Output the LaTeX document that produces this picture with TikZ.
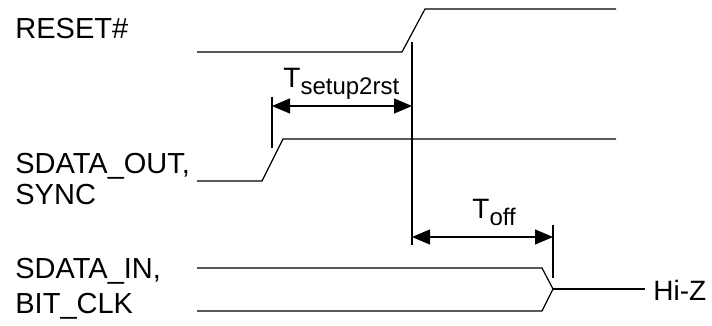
\documentclass[tikz,border=0pt]{standalone}
\usepackage{fontspec}
\setmainfont{Liberation Sans}
\usetikzlibrary{arrows.meta}

\begin{document}
\begin{tikzpicture}[x=0.5pt,y=-0.5pt,
        sig/.style={line width=0.6pt},
        dim/.style={line width=0.6pt,{Triangle[length=9pt,width=7.5pt]}-{Triangle[length=9pt,width=7.5pt]}},
        lbl/.style={anchor=base west,inner sep=0pt,font=\fontsize{14.5}{16}\selectfont}]
            \useasboundingbox (0,0) rectangle (712,326);

            % RESET# 信号
            \coordinate (R0) at (197,52);
            \coordinate (R1) at (402,52);
            \coordinate (R2) at (425,9);
            \coordinate (R3) at (616,9);
            \draw[sig] (R0) -- (R1) -- (R2) -- (R3);
            \node[lbl] (rst) at (15,39) {RESET\#};

            % SDATA_OUT, SYNC 信号
            \coordinate (D0) at (197,181);
            \coordinate (D1) at (262,181);
            \coordinate (D2) at (283,139);
            \coordinate (D3) at (616,139);
            \draw[sig] (D0) -- (D1) -- (D2) -- (D3);
            \node[lbl] (dout) at (15,173) {SDATA\_OUT,};
            \node[lbl] (sync) at (15,204) {SYNC};

            % SDATA_IN, BIT_CLK 信号 (进入高阻)
            \coordinate (I0) at (197,268);
            \coordinate (I1) at (542,268);
            \coordinate (K0) at (197,311);
            \coordinate (K1) at (542,311);
            \coordinate (Z0) at (553,289);
            \coordinate (Z1) at (645,289);
            \draw[sig] (I0) -- (I1) -- (Z0) -- (K1) -- (K0);
            \draw[sig] (Z0) -- (Z1);
            \node[lbl] (din) at (15,278) {SDATA\_IN,};
            \node[lbl] (bclk) at (15,313) {BIT\_CLK};
            \node[lbl,font=\fontsize{14}{16}\selectfont] (hiz) at (653,300) {Hi-Z};

            % 参考线
            \coordinate (V0) at (412,42);
            \coordinate (V1) at (412,245);
            \coordinate (L0) at (272,97);
            \coordinate (L1) at (272,148);
            \coordinate (W0) at (553,225);
            \coordinate (W1) at (553,278);
            \draw[sig] (V0) -- (V1);
            \draw[sig] (L0) -- (L1);
            \draw[sig] (W0) -- (W1);

            % 时间间隔
            \coordinate (S1) at (272,106);
            \coordinate (S2) at (412,106);
            \draw[dim] (S1) -- (S2);
            \node[lbl,font=\fontsize{14}{16}\selectfont] (tsu) at (283,88) {T\raisebox{-3.5pt}{\fontsize{12}{14}\selectfont setup2rst}};

            \coordinate (O1) at (412,237);
            \coordinate (O2) at (553,237);
            \draw[dim] (O1) -- (O2);
            \node[lbl,font=\fontsize{14}{16}\selectfont] (toff) at (472,218) {T\raisebox{-3.5pt}{\fontsize{12}{14}\selectfont off}};
\end{tikzpicture}
\end{document}
